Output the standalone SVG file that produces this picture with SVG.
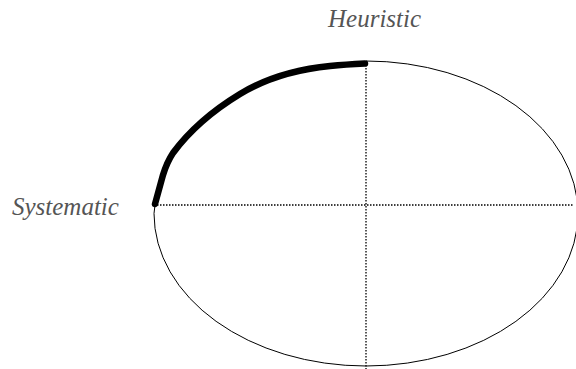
<svg xmlns="http://www.w3.org/2000/svg" width="576" height="369" viewBox="0 0 576 369">
<style>
.lbl{font-family:"Liberation Serif","Times New Roman",serif;font-style:italic;font-size:25px;fill:#555}
.axis{stroke:#000;stroke-width:1.3;stroke-dasharray:1.5 1.5;fill:none}
</style>
<rect width="576" height="369" fill="#fff"/>
<g id="ellipse">
<path d="M366,61 A212,152.5 0 1 1 154,213.5 L155,205" fill="none" stroke="#000" stroke-width="1"/>
</g>
<g id="connectors">
<line class="axis" x1="366" y1="62" x2="366" y2="369"/>
<line class="axis" x1="157" y1="205" x2="574" y2="205"/>
<path d="M155,204 L163,175 Q167,162 173,153 C190,130 212,111 240,94 C268,77 300,69 330,66 C345,64.5 355,64 365,63.5" fill="none" stroke="#000" stroke-width="6.5" stroke-linecap="round"/>
</g>
<g id="heuristic"><text class="lbl" x="328" y="27">Heuristic</text></g>
<g id="systematic"><text class="lbl" x="12" y="215">Systematic</text></g>
</svg>
